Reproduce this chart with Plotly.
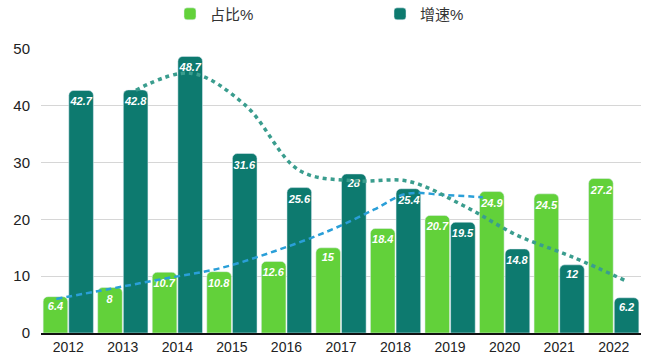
import plotly.graph_objects as go

years = [2012, 2013, 2014, 2015, 2016, 2017, 2018, 2019, 2020, 2021, 2022]
share = [6.4, 8, 10.7, 10.8, 12.6, 15, 18.4, 20.7, 24.9, 24.5, 27.2]
growth = [42.7, 42.8, 48.7, 31.6, 25.6, 28, 25.4, 19.5, 14.8, 12, 6.2]
share_labels = ["6.4", "8", "10.7", "10.8", "12.6", "15", "18.4", "20.7", "24.9", "24.5", "27.2"]
growth_labels = ["42.7", "42.8", "48.7", "31.6", "25.6", "28", "25.4", "19.5", "14.8", "12", "6.2"]

# 2-period moving average of growth (trend line), positioned at the growth bars
growth_ma_years = [2013.24, 2014.24, 2015.24, 2016.24, 2017.24, 2018.24, 2019.24, 2020.24, 2021.24, 2022.24]
growth_ma = [42.75, 45.75, 40.15, 28.6, 26.8, 26.7, 22.45, 17.15, 13.4, 9.1]

# share trend line
share_tr_years = [2011.78, 2012.78, 2013.78, 2014.78, 2015.78, 2016.78, 2017.6, 2018.2, 2018.9, 2019.6]
share_tr = [6.0, 7.8, 9.6, 11.4, 14.4, 18.0, 21.7, 24.5, 24.3, 23.9]

GREEN = "#62d13a"
TEAL = "#0d7a6f"
LABEL_FONT = dict(color="white", size=11, style="italic", weight=600, family="Liberation Sans, Arial")

fig = go.Figure()
fig.add_trace(go.Bar(
    x=years, y=share, name="占比%", marker_color=GREEN, legend="legend",
    text=share_labels, textposition="inside", insidetextanchor="end",
    textangle=0, constraintext="none", textfont=LABEL_FONT,
))
fig.add_trace(go.Bar(
    x=years, y=growth, name="增速%", marker_color=TEAL, legend="legend2",
    text=growth_labels, textposition="inside", insidetextanchor="end",
    textangle=0, constraintext="none", textfont=LABEL_FONT,
))
fig.add_trace(go.Scatter(
    x=share_tr_years, y=share_tr, mode="lines", showlegend=False, hoverinfo="skip",
    line=dict(color="#2a9fd8", width=2.5, dash="6px,4px", shape="spline"),
))
fig.add_trace(go.Scatter(
    x=growth_ma_years, y=growth_ma, mode="lines", showlegend=False, hoverinfo="skip",
    line=dict(color="#3a9d8e", width=3.5, dash="4px,4px", shape="spline"),
))

legend_font = dict(size=15, color="#333", family="Liberation Sans, Noto Sans CJK SC")
fig.update_layout(
    width=660, height=357,
    margin=dict(l=41, r=19, t=49, b=24, autoexpand=False),
    paper_bgcolor="white", plot_bgcolor="white",
    barmode="group", bargap=0.06, bargroupgap=0.04, barcornerradius=5,
    uniformtext=dict(minsize=11, mode="show"),
    font=dict(family="Liberation Sans, Arial, Noto Sans CJK SC", color="#222"),
    legend=dict(orientation="h", x=0.215, xanchor="left", y=1.123, yanchor="middle",
                font=legend_font, bgcolor="rgba(0,0,0,0)"),
    legend2=dict(orientation="h", x=0.565, xanchor="left", y=1.123, yanchor="middle",
                 font=legend_font, bgcolor="rgba(0,0,0,0)"),
    showlegend=True,
)
fig.update_xaxes(
    range=[2011.5, 2022.5], tickvals=years, ticktext=[str(y) for y in years],
    showgrid=False, showline=True, linecolor="#111", linewidth=1.5,
    ticks="", tickfont=dict(size=14, color="#222"), zeroline=False,
)
fig.update_yaxes(
    range=[0, 50], tickvals=[0, 10, 20, 30, 40, 50],
    showgrid=True, gridcolor="#d6d6d6", gridwidth=1,
    zeroline=False, showline=False, ticks="",
    tickfont=dict(size=15, color="#222"), ticklabelstandoff=10,
)

fig.write_html("out.html", config={"displayModeBar": False},
               post_script="document.body.style.margin='0';document.body.style.overflow='hidden';")
